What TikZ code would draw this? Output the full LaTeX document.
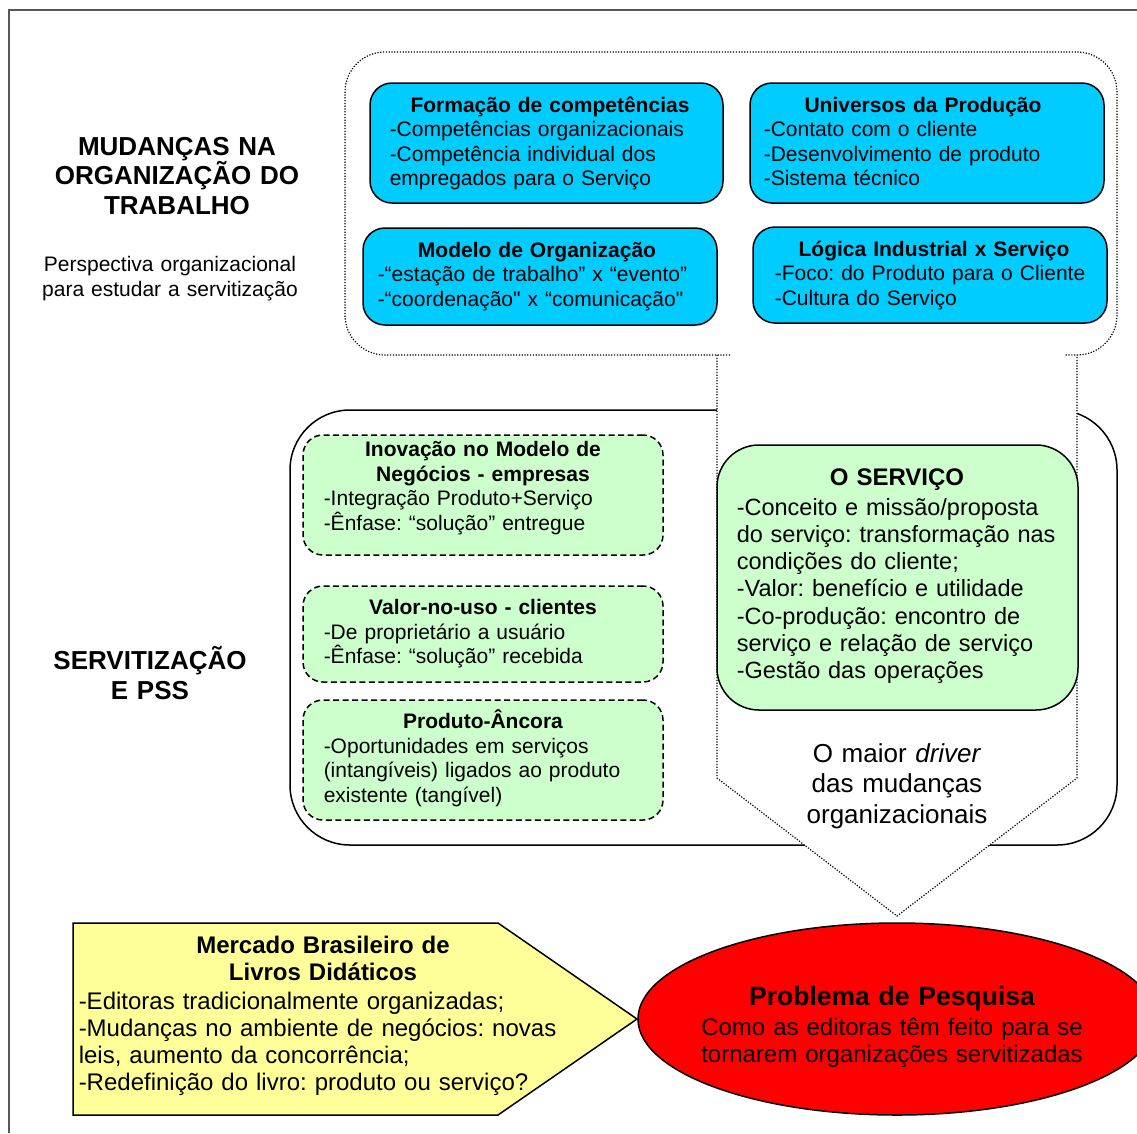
\documentclass[tikz,border=0pt]{standalone}
\usepackage{fontspec}
\setmainfont{Liberation Sans}[Ligatures=TeXOff]
\usetikzlibrary{%
  shapes.geometric,% ellipse
  positioning%
}
\definecolor{boxblue}{RGB}{0,204,255}
\definecolor{boxgreen}{RGB}{204,255,204}
\definecolor{boxyellow}{RGB}{255,255,153}
\definecolor{framegray}{RGB}{88,88,88}
\frenchspacing

\begin{document}
\begin{tikzpicture}
[x=1pt, y=-1pt, line width=1.5pt,
bluebox/.style={rectangle, draw, rounded corners=22pt, fill=boxblue, inner sep=0pt},
greenbox/.style={rectangle, draw, rounded corners=20pt, fill=boxgreen, inner sep=0pt, dash pattern=on 6pt off 3.5pt},
headtext/.style={anchor=base, align=center, text width=500pt, inner sep=0pt, font=\bfseries\fontsize{26}{29.5}\selectfont},
boxtitle/.style={anchor=base, align=center, text width=500pt, inner sep=0pt, font=\bfseries\fontsize{21}{24.5}\selectfont},
boxbody/.style={anchor=base west, align=left, text width=600pt, inner sep=0pt, font=\fontsize{21}{24.5}\selectfont},
dotline/.style={line width=1.2pt, dash pattern=on 1.2pt off 1.6pt}]

\clip (0,0) rectangle (1137,1133);
\draw[framegray, line width=2pt] (1137,10) -- (9,10) -- (9,1133);

% left headings
\node[headtext] (mudancas) at (177,155) {MUDANÇAS NA\\ORGANIZAÇÃO DO\\TRABALHO};
\node[headtext, font=\fontsize{21}{24.3}\selectfont] (persp) at (170,271.7) {Perspectiva organizacional\\para estudar a servitização};
\node[headtext, font=\bfseries\fontsize{26}{30}\selectfont] (servit) at (150,669.5) {SERVITIZAÇÃO\\E PSS};

% servitization frame and callout
\node[rectangle, draw, rounded corners=60pt, fill=white, minimum width=827pt, minimum height=435pt] (servitbox) at (703.5,627.5) {};
\coordinate (calltip) at (897,916);
\fill[white] (717,355) -- (717,778) -- (calltip) -- (1077,778) -- (1077,355) -- cycle;
\draw[dotline, rounded corners=40pt] (730,355) -- (345,355) -- (345,52) -- (1117,52) -- (1117,355) -- (1065,355);
\draw[dotline] (717,355) -- (717,778) -- (calltip) -- (1077,778) -- (1077,355);

% organization boxes
\node[bluebox, minimum width=353pt, minimum height=120pt] (formacao) at (546.5,143) {};
\node[boxtitle] (formacao-title) at (550,112) {Formação de competências};
\node[boxbody] (formacao-body) at (389,136.7) {-Competências organizacionais\\-Competência individual dos\\empregados para o Serviço};

\node[bluebox, minimum width=354pt, minimum height=120pt] (universos) at (927,143) {};
\node[boxtitle] (universos-title) at (923,112) {Universos da Produção};
\node[boxbody] (universos-body) at (763,136.7) {-Contato com o cliente\\-Desenvolvimento de produto\\-Sistema técnico};

\node[bluebox, minimum width=354pt, minimum height=97pt] (modelo) at (540,276.5) {};
\node[boxtitle] (modelo-title) at (537,257) {Modelo de Organização};
\node[boxbody] (modelo-body) at (377,281.5) {-“estação de trabalho” x “evento”\\-“coordenação" x “comunicação"};

\node[bluebox, minimum width=354pt, minimum height=96pt] (logica) at (930,275) {};
\node[boxtitle] (logica-title) at (934,256) {Lógica Industrial x Serviço};
\node[boxbody] (logica-body) at (774,280.5) {-Foco: do Produto para o Cliente\\-Cultura do Serviço};

% servitization boxes
\node[greenbox, minimum width=360pt, minimum height=120pt] (inovacao) at (483,495) {};
\node[boxtitle] (inovacao-title) at (483,456.7) {Inovação no Modelo de\\Negócios - empresas};
\node[boxbody] (inovacao-body) at (323,505.5) {-Integração Produto+Serviço\\-Ênfase: “solução” entregue};

\node[greenbox, minimum width=360pt, minimum height=96pt] (valor) at (483,634) {};
\node[boxtitle] (valor-title) at (483,614.5) {Valor-no-uso - clientes};
\node[boxbody] (valor-body) at (323,639) {-De proprietário a usuário\\-Ênfase: “solução” recebida};

\node[greenbox, minimum width=360pt, minimum height=120pt] (produto) at (483,760) {};
\node[boxtitle] (produto-title) at (483,728.5) {Produto-Âncora};
\node[boxbody] (produto-body) at (323,753) {-Oportunidades em serviços\\(intangíveis) ligados ao produto\\existente (tangível)};

\node[rectangle, draw, rounded corners=42pt, fill=boxgreen, inner sep=0pt, minimum width=361pt, minimum height=265pt] (servico) at (897.5,577.5) {};
\node[boxtitle, font=\bfseries\fontsize{24}{27.3}\selectfont] (servico-title) at (897,485) {O SERVIÇO};
\node[boxbody, font=\fontsize{23.5}{27.3}\selectfont] (servico-body) at (736,515) {-Conceito e missão/proposta\\do serviço: transformação nas\\condições do cliente;\\-Valor: benefício e utilidade\\-Co-produção: encontro de\\serviço e relação de serviço\\-Gestão das operações};

\node[headtext, font=\fontsize{26}{30.5}\selectfont] (driver) at (897,762) {O maior \textit{driver}\\das mudanças\\organizacionais};

% market and research problem
\coordinate (mercado-tip) at (637,1019);
\draw[fill=boxyellow] (73,923) -- (498,923) -- (mercado-tip) -- (498,1115) -- (73,1115) -- cycle;
\node[boxtitle, font=\bfseries\fontsize{24}{27.3}\selectfont] (mercado-title) at (323,953) {Mercado Brasileiro de\\Livros Didáticos};
\node[boxbody, font=\fontsize{24}{27.3}\selectfont] (mercado-body) at (78,1009) {-Editoras tradicionalmente organizadas;\\-Mudanças no ambiente de negócios: novas\\leis, aumento da concorrência;\\-Redefinição do livro: produto ou serviço?};

\node[ellipse, draw, fill=red, inner sep=0pt, minimum width=518pt, minimum height=192pt] (problema) at (897,1019) {};
\node[boxtitle, font=\bfseries\fontsize{26.5}{30}\selectfont] (problema-title) at (892,1005) {Problema de Pesquisa};
\node[headtext, font=\fontsize{24}{27}\selectfont] (problema-body) at (892,1035) {Como as editoras têm feito para se\\tornarem organizações servitizadas};
\end{tikzpicture}
\end{document}
